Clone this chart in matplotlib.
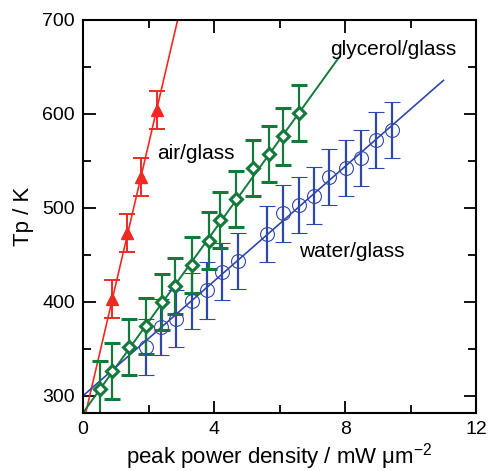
import numpy as np
import matplotlib
matplotlib.use("Agg")
import matplotlib.pyplot as plt
from matplotlib.ticker import MultipleLocator

plt.rcParams['font.family'] = ['Liberation Sans', 'DejaVu Sans']
plt.rcParams['mathtext.default'] = 'regular'

# air/glass
air_x = [0.89, 1.33, 1.78, 2.24]
air_y = [403, 473, 533, 604]
air_err = [20, 20, 20, 20]
air_fit = (149.0, 270.0)   # slope, intercept

# glycerol/glass
gly_x = [0.51, 0.89, 1.40, 1.91, 2.42, 2.80, 3.31, 3.84, 4.17, 4.68, 5.19, 5.68, 6.09, 6.60]
gly_y = [307, 326, 352, 374, 400, 417, 439, 465, 487, 509, 542, 557, 576, 601]
gly_err = [30] * len(gly_x)
gly_fit = (48.4, 282.0)

# water/glass
wat_x = [1.91, 2.37, 2.83, 3.33, 3.77, 4.23, 4.73, 5.62, 6.11, 6.60, 7.05, 7.51, 8.01, 8.47, 8.94, 9.42]
wat_y = [352, 373, 382, 401, 412, 432, 443, 472, 494, 503, 513, 533, 542, 553, 572, 583]
wat_err = [30] * len(wat_x)
wat_fit = (30.5, 300.0)

red = '#ee2a24'
green = '#137a3c'
blue = '#2f47a8'

fig = plt.figure(figsize=(4.95, 4.71), dpi=100)
ax = fig.add_axes([0.168, 0.124, 0.794, 0.834])

# fit lines
xr = np.array([0, 3.0])
ax.plot(xr, air_fit[0] * xr + air_fit[1], color=red, lw=1.2)
xg = np.array([0, 7.8])
ax.plot(xg, gly_fit[0] * xg + gly_fit[1], color=green, lw=1.4)
xb = np.array([0, 11.0])
ax.plot(xb, wat_fit[0] * xb + wat_fit[1], color=blue, lw=1.2)

ax.errorbar(wat_x, wat_y, yerr=wat_err, fmt='o', color=blue, mfc='none',
            mec=blue, ms=10, mew=0.8, capsize=5.5, elinewidth=1.6, capthick=1.6)
ax.errorbar(gly_x, gly_y, yerr=gly_err, fmt='D', color=green, mfc='white',
            mec=green, ms=6.5, mew=2.2, capsize=5.5, elinewidth=1.6, capthick=1.6)
ax.errorbar(air_x, air_y, yerr=air_err, fmt='^', color=red, mfc=red,
            mec=red, ms=8.5, capsize=5.5, elinewidth=1.4, capthick=1.4)

ax.text(2.25, 558, 'air/glass', fontsize=15, va='center', ha='left')
ax.text(7.53, 668, 'glycerol/glass', fontsize=15, va='center', ha='left')
ax.text(6.6, 453, 'water/glass', fontsize=15, va='center', ha='left')

ax.set_xlim(0, 12)
ax.set_ylim(282, 700)
ax.xaxis.set_major_locator(MultipleLocator(4))
ax.xaxis.set_minor_locator(MultipleLocator(2))
ax.yaxis.set_major_locator(MultipleLocator(100))
ax.yaxis.set_minor_locator(MultipleLocator(50))
ax.tick_params(which='both', direction='in', top=True, right=True, labelsize=14, width=1.3)
ax.tick_params(which='major', length=9, pad=6)
ax.tick_params(which='minor', length=6)
for s in ax.spines.values():
    s.set_linewidth(1.5)

ax.set_xlabel('peak power density / mW μm$^{-2}$', fontsize=16, labelpad=2)
ax.set_ylabel('Tp / K', fontsize=16, labelpad=6)

fig.savefig('out.png', dpi=100)
